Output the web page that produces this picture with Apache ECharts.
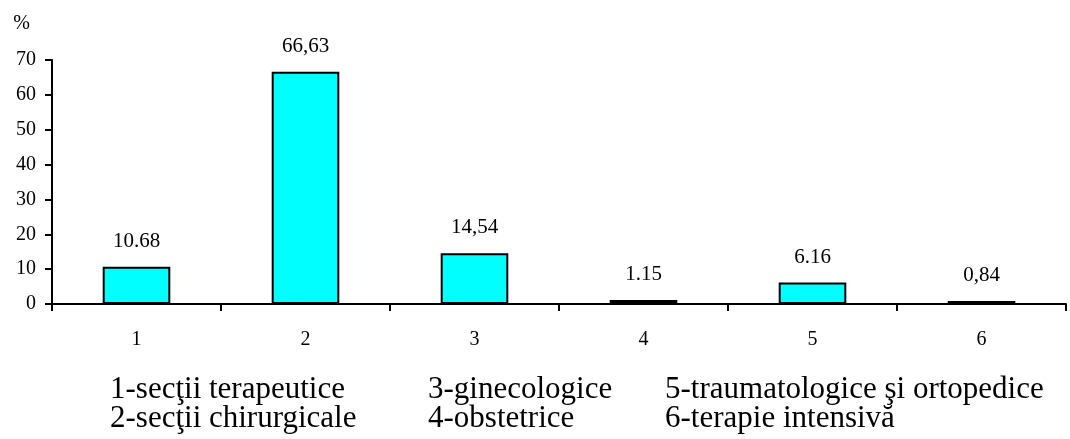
<!DOCTYPE html>
<html>
<head>
<meta charset="utf-8">
<script src="https://cdn.jsdelivr.net/npm/echarts@6/dist/echarts.min.js"></script>
<style>
  html, body { margin: 0; padding: 0; background: #fff; }
  #chart { width: 1070px; height: 439px; }
</style>
</head>
<body>
<div id="chart"></div>
<script>
// Share of cases by hospital department, %
const categories = ['1', '2', '3', '4', '5', '6'];
const values = [10.68, 66.63, 14.54, 1.15, 6.16, 0.84];
const valueLabels = ['10.68', '66,63', '14,54', '1.15', '6.16', '0,84'];
const yTicks = [0, 10, 20, 30, 40, 50, 60, 70];
const legendLines = [
  ['1-secţii terapeutice', '3-ginecologice', '5-traumatologice şi ortopedice'],
  ['2-secţii chirurgicale', '4-obstetrice', '6-terapie intensivă']
];

const serif = '"Liberation Serif", "DejaVu Serif", serif';
const chart = echarts.init(document.getElementById('chart'));

// Key to the category numbers, laid out in three columns under the axis
const legendCols = [110, 428, 665];
const legendRowTops = [374, 403];
const legendGraphics = [];
legendLines.forEach((row, r) => {
  row.forEach((txt, c) => {
    legendGraphics.push({
      type: 'text',
      left: legendCols[c],
      top: legendRowTops[r],
      style: { text: txt, font: '31px ' + serif, fill: '#000' }
    });
  });
});

chart.setOption({
  animation: false,
  backgroundColor: '#fff',
  grid: { left: 52, right: 4, top: 60, bottom: 135, containLabel: false },
  xAxis: {
    type: 'category',
    data: categories,
    axisLine: { lineStyle: { color: '#000', width: 2 } },
    axisTick: { show: true, length: 7, lineStyle: { color: '#000', width: 2 } },
    axisLabel: { color: '#000', fontFamily: serif, fontSize: 20, margin: 26 }
  },
  yAxis: {
    type: 'value',
    min: yTicks[0],
    max: yTicks[yTicks.length - 1],
    interval: 10,
    name: '%',
    nameLocation: 'end',
    nameGap: 26,
    nameTextStyle: { color: '#000', fontFamily: serif, fontSize: 20, align: 'right', padding: [0, 22, 0, 0] },
    axisLine: { show: true, lineStyle: { color: '#000', width: 2 } },
    axisTick: { show: true, length: 7, lineStyle: { color: '#000', width: 2 } },
    axisLabel: { color: '#000', fontFamily: serif, fontSize: 20, margin: 16 },
    splitLine: { show: false }
  },
  series: [{
    type: 'bar',
    data: values,
    barWidth: '40%',
    itemStyle: { color: '#00FFFF', borderColor: '#000', borderWidth: 2 },
    label: {
      show: true,
      position: 'top',
      distance: 15,
      color: '#000',
      fontFamily: serif,
      fontSize: 21,
      formatter: p => valueLabels[p.dataIndex]
    }
  }],
  graphic: legendGraphics
});
</script>
</body>
</html>
